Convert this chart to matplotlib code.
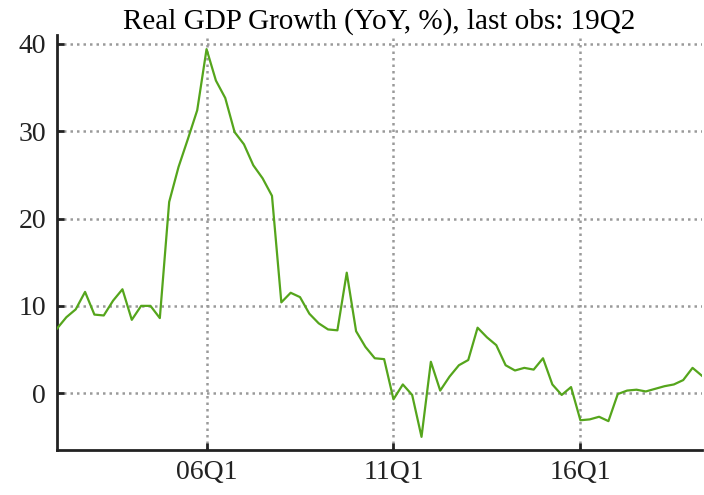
import matplotlib
matplotlib.use("Agg")
import matplotlib.pyplot as plt
import numpy as np

values = [
    7.4, 8.7, 9.6, 11.6,      # 2002
    9.0, 8.9, 10.6, 11.9,     # 2003
    8.4, 10.0, 10.0, 8.6,     # 2004
    21.9, 25.9, 29.1, 32.4,   # 2005
    39.4, 35.8, 33.8, 29.9,   # 2006
    28.5, 26.1, 24.6, 22.6,   # 2007
    10.4, 11.5, 11.0, 9.1,    # 2008
    8.0, 7.3, 7.2, 13.8,      # 2009
    7.1, 5.3, 4.0, 3.9,       # 2010
    -0.7, 1.0, -0.2, -5.0,    # 2011
    3.6, 0.3, 1.9, 3.2,       # 2012
    3.8, 7.5, 6.4, 5.5,       # 2013
    3.2, 2.6, 2.9, 2.7,       # 2014
    4.0, 1.0, -0.2, 0.7,      # 2015
    -3.1, -3.0, -2.7, -3.2,   # 2016
    -0.1, 0.3, 0.4, 0.2,      # 2017
    0.5, 0.8, 1.0, 1.5,       # 2018
    2.9, 2.0,                 # 2019
]
start_year = 2002
quarters = [f"{(start_year + i // 4) % 100:02d}Q{i % 4 + 1}" for i in range(len(values))]
xtick_labels = ["06Q1", "11Q1", "16Q1"]
ytick_values = [0, 10, 20, 30, 40]
title = "Real GDP Growth (YoY, %), last obs: 19Q2"

plt.rcParams['font.family'] = ['Liberation Serif', 'DejaVu Serif']

fig = plt.figure(figsize=(7.04, 4.95), dpi=100)
ax = fig.add_axes([0.081, 0.091, 0.916, 0.838])

x = np.arange(len(values))
ax.plot(x, values, color='#55a51c', linewidth=1.6, zorder=3)

ax.set_xlim(0, len(values) - 1)
ax.set_ylim(-6.5, 41)
ax.set_xticks([quarters.index(l) for l in xtick_labels])
ax.set_xticklabels(xtick_labels)
ax.set_yticks(ytick_values)

ax.grid(True, color='#9a9a9a', linestyle=(0, (1, 1.6)), linewidth=1.8, zorder=1)
for s in ['top', 'right']:
    ax.spines[s].set_visible(False)
for s in ['left', 'bottom']:
    ax.spines[s].set_color('#222222')
    ax.spines[s].set_linewidth(2.0)
ax.tick_params(direction='in', length=5, width=2.0, color='#222222',
               labelsize=20, labelcolor='#222222')
ax.tick_params(axis='y', pad=8)
ax.tick_params(axis='x', pad=7)
ax.set_title(title, fontsize=21, pad=3)

fig.savefig("out.png", dpi=100)
